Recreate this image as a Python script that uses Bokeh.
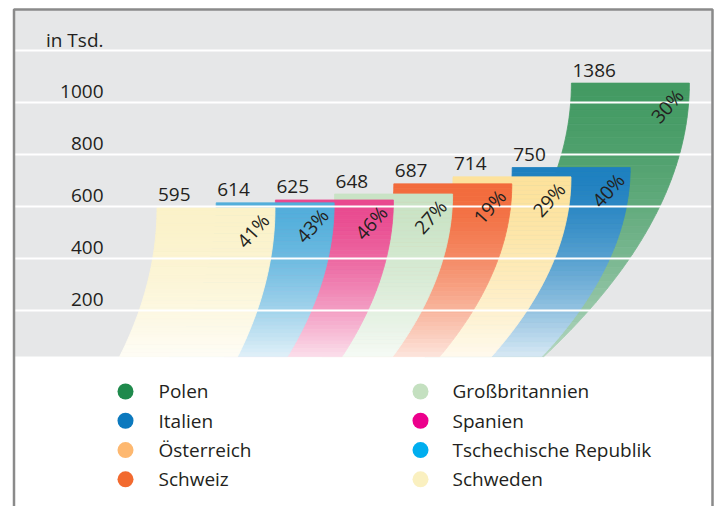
import numpy as np
from bokeh.plotting import figure
from bokeh.models import Range1d, BoxAnnotation
from bokeh.core.properties import value
from bokeh.embed import file_html
from bokeh.resources import INLINE

# ---------------- data ----------------
countries = ["Schweden", "Tschechische Republik", "Spanien", "Großbritannien",
             "Schweiz", "Österreich", "Italien", "Polen"]
values = [595, 614, 625, 648, 687, 714, 750, 1386]          # in Tsd.
shares = ["41%", "43%", "46%", "27%", "19%", "29%", "40%", "30%"]
tick_values = [200, 400, 600, 800, 1000, 1200]
tick_labels = ["200", "400", "600", "800", "1000", "in Tsd."]
legend_col1 = ["Polen", "Italien", "Österreich", "Schweiz"]
legend_col2 = ["Großbritannien", "Spanien", "Tschechische Republik", "Schweden"]

# ---------------- style ----------------
legend_colors = {"Polen": "#1F8A4C", "Italien": "#0C79BE", "Österreich": "#FDB870",
                 "Schweiz": "#F26A2F", "Großbritannien": "#C4E0C0", "Spanien": "#EC008C",
                 "Tschechische Republik": "#00AEEF", "Schweden": "#FAF0C0"}
band_colors = {"Polen": "#439A63", "Italien": "#1E80C0", "Österreich": "#FDE29C",
               "Schweiz": "#F26B3C", "Großbritannien": "#C9E3C5", "Spanien": "#E9498F",
               "Tschechische Republik": "#52AEDB", "Schweden": "#FBF2C9"}
FONT = value("Open Sans")
TEXT = "#231F20"
GRAY_BG = "#E6E7E8"
BORDER = "#8A8A8A"
FS = "19px"

# layout constants (x in screen px, y in value units)
WIDTH, HEIGHT = 717, 506
Y_LO, Y_HI = -555.3, 1393.1
PXU = HEIGHT / (Y_HI - Y_LO)        # screen px per value unit
PANEL_L, PANEL_R, PANEL_TOP = 13.5, 712, 1358.5
FLOOR = 22                          # bottom of the grey chart panel
BREAK = 1075                        # taller bars drawn truncated (axis break)
BAND_X0, BAND_STEP, BAND_W = 156.5, 59.2, 118
CURVE_K, CURVE_D0 = 12.6, 140       # horizontal sweep of each band's curve
LEG_Y0, LEG_DY = -112.4, 112.8

p = figure(width=WIDTH, height=HEIGHT, x_range=Range1d(0, WIDTH), y_range=Range1d(Y_LO, Y_HI),
           x_axis_type=None, y_axis_type=None, toolbar_location=None, output_backend="svg",
           min_border=0, background_fill_color="white", border_fill_color="white",
           outline_line_color=None)

p.add_layout(BoxAnnotation(left=PANEL_L, right=PANEL_R, bottom=FLOOR, top=PANEL_TOP,
                           fill_color=GRAY_BG, fill_alpha=1, line_color=None, level="underlay"))


def shape(t):
    return t ** 2


def blend(hexc, f):
    r, g, b = int(hexc[1:3], 16), int(hexc[3:5], 16), int(hexc[5:7], 16)
    r, g, b = (round(c + (255 - c) * f) for c in (r, g, b))
    return "#%02X%02X%02X" % (r, g, b)


xs, ys, cols = [], [], []
N = 40
for i in reversed(range(len(values))):
    top = min(values[i], BREAK)
    depth = top - FLOOR
    off = CURVE_K * np.sqrt(max(depth * PXU - CURVE_D0, 0))
    xl = BAND_X0 + i * BAND_STEP
    xr = xl + BAND_W
    ts = np.linspace(0, 1, N + 1)
    fade_end = 0.6 if countries[i] == "Polen" else 0.82
    for k in range(N):
        t0, t1 = ts[k], ts[k + 1]
        o0, o1 = off * shape(t0), off * shape(t1)
        y0, y1 = top - t0 * depth, top - t1 * depth
        xs.append([xl - o0, xr - o0, xr - o1, xl - o1])
        ys.append([y0, y0, y1, y1])
        cols.append(blend(band_colors[countries[i]], fade_end * ((t0 + t1) / 2) ** 1.6))

p.patches(xs, ys, fill_color=cols, line_color=cols, line_width=0.8)

# grid lines over the bands
p.hspan(y=tick_values, line_color="white", line_width=2)

# frame (left, top, right)
p.line(x=[PANEL_L, PANEL_L, PANEL_R, PANEL_R], y=[Y_LO, PANEL_TOP, PANEL_TOP, Y_LO],
       line_color=BORDER, line_width=2.5)

# y tick labels inside the panel, sitting above their grid line
p.text(x=[103] * len(tick_values), y=tick_values, text=tick_labels, text_align="right",
       text_baseline="middle", y_offset=-11, text_font=FONT, text_font_size=FS,
       text_color=TEXT)

# value labels
tops = [min(v, BREAK) for v in values]
lefts = [BAND_X0 + i * BAND_STEP for i in range(len(values))]
rights = [x + BAND_W for x in lefts]
p.text(x=[x + 1 for x in lefts], y=tops, text=[str(v) for v in values],
       text_align="left", text_baseline="middle", y_offset=-13,
       text_font=FONT, text_font_size=FS, text_color=TEXT)

# share labels (rotated)
p.text(x=rights, y=tops, text=shares, x_offset=-22, y_offset=23, angle=0.84,
       text_align="center", text_baseline="middle",
       text_font=FONT, text_font_size=FS, text_color=TEXT)

# legend
for names, cx, tx in [(legend_col1, 125, 158), (legend_col2, 420, 452)]:
    ly = [LEG_Y0 - r * LEG_DY for r in range(len(names))]
    p.scatter(x=[cx] * len(names), y=ly, size=16, marker="circle",
              fill_color=[legend_colors[n] for n in names], line_color=None)
    p.text(x=[tx] * len(names), y=ly, text=names, text_align="left",
           text_baseline="middle", text_font=FONT, text_font_size=FS, text_color=TEXT)

open("out.html", "w").write(file_html(p, INLINE))
